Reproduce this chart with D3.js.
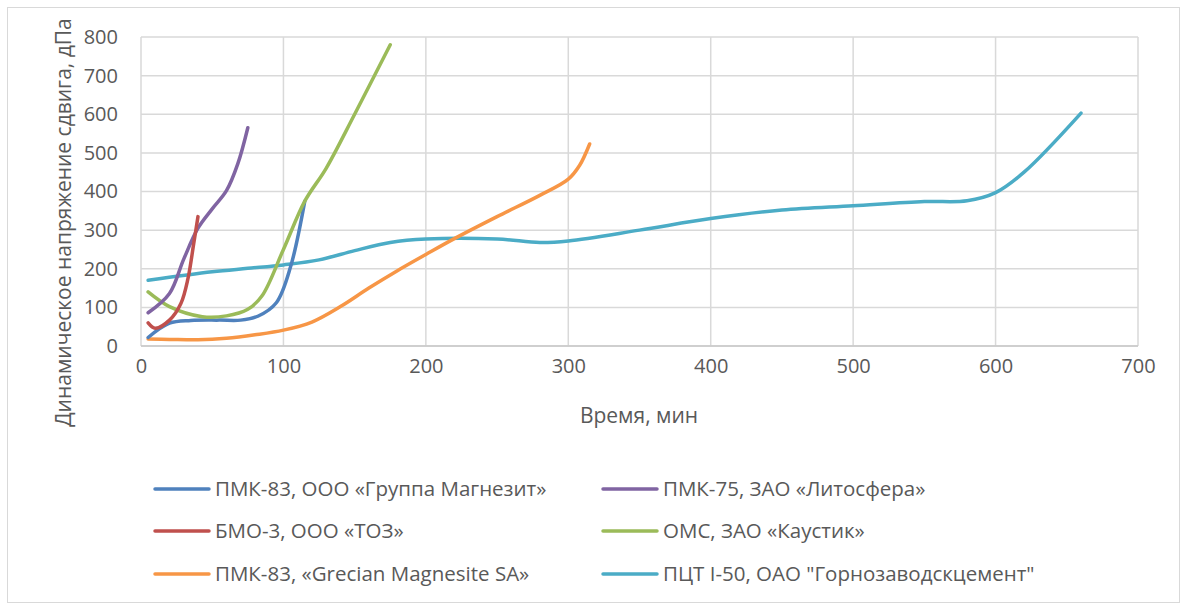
<!DOCTYPE html>
<html lang="ru">
<head>
<meta charset="UTF-8">
<title>Динамическое напряжение сдвига</title>
<script src="https://d3js.org/d3.v7.min.js"></script>
<style>
  body { margin: 0; background: #fff; }
  svg text { font-family: "Open Sans", "Segoe UI", sans-serif; fill: #595959; }
  .grid line { stroke: #d9d9d9; stroke-width: 1.5px; }
  .series { fill: none; stroke-width: 3.5px; stroke-linecap: round; stroke-linejoin: round; }
</style>
</head>
<body>
<div id="chart"></div>
<script>
// x ticks / y ticks
const xTicks = [0, 100, 200, 300, 400, 500, 600, 700];
const yTicks = [0, 100, 200, 300, 400, 500, 600, 700, 800];

// series values: [time, value]
const pmk83Magnezit = [[5,22],[20,59],[35,66],[55,67],[70,67],[82,77],[95,112],[105,205],[115,375]];
const pmk75Litosfera = [[5,86],[20,136],[30,225],[40,305],[50,355],[60,402],[68,472],[75,565]];
const bmo3Toz = [[5,60],[10,46],[20,67],[28,110],[33,175],[37,265],[40,335]];
const omsKaustik = [[5,140],[20,102],[43,76],[60,78],[75,95],[85,130],[100,250],[115,375],[130,460],[150,600],[175,780]];
const pmk83Grecian = [[5,18],[20,17],[40,16],[60,20],[80,29],[100,41],[120,62],[140,102],[160,150],[180,195],[200,237],[220,278],[250,335],[280,390],[300,432],[308,468],[315,523]];
const pctI50 = [[5,170],[50,192],[75,201],[100,210],[125,223],[150,247],[175,268],[200,277],[250,277],[280,268],[300,272],[350,300],[400,330],[450,352],[500,363],[550,374],[580,376],[600,397],[620,450],[660,603]];

const seriesNames = [
  "ПМК-83, ООО «Группа Магнезит»",
  "ПМК-75, ЗАО «Литосфера»",
  "БМО-3, ООО «ТОЗ»",
  "ОМС, ЗАО «Каустик»",
  "ПМК-83, «Grecian Magnesite SA»",
  "ПЦТ I-50, ОАО \"Горнозаводскцемент\""
];
const seriesColors = ["#4f81bd", "#8064a2", "#c0504d", "#9bbb59", "#f79646", "#4bacc6"];
const seriesData = [pmk83Magnezit, pmk75Litosfera, bmo3Toz, omsKaustik, pmk83Grecian, pctI50];
// drawing order (bottom to top)
const drawOrder = [5, 4, 0, 3, 1, 2];

const width = 1186, height = 610;

const svg = d3.select("#chart").append("svg")
  .attr("width", width)
  .attr("height", height);

// outer chart border
svg.append("rect")
  .attr("x", 7.5).attr("y", 7.5)
  .attr("width", 1172).attr("height", 595)
  .attr("fill", "#fff")
  .attr("stroke", "#d9d9d9");

const x = d3.scaleLinear().domain([0, 700]).range([141, 1138]);
const y = d3.scaleLinear().domain([0, 800]).range([346, 37]);

// gridlines
const grid = svg.append("g").attr("class", "grid");
grid.selectAll(".h").data(yTicks).enter().append("line")
  .attr("x1", x(0)).attr("x2", x(700))
  .attr("y1", d => y(d)).attr("y2", d => y(d));
grid.selectAll(".v").data(xTicks).enter().append("line")
  .attr("y1", y(0)).attr("y2", y(800))
  .attr("x1", d => x(d)).attr("x2", d => x(d));

// axis labels
const xAxis = svg.append("g")
  .attr("transform", `translate(0,${y(0)})`)
  .call(d3.axisBottom(x).tickValues(xTicks).tickSize(0).tickPadding(13));
const yAxis = svg.append("g")
  .attr("transform", `translate(${x(0)},0)`)
  .call(d3.axisLeft(y).tickValues(yTicks).tickSize(0).tickPadding(23));
[xAxis, yAxis].forEach(a => {
  a.select(".domain").remove();
  a.selectAll("text").style("font-size", "20px").attr("fill", "#595959");
});
svg.append("line")
  .attr("x1", x(0)).attr("x2", x(700))
  .attr("y1", y(0)).attr("y2", y(0))
  .attr("stroke", "#c8c8c8").attr("stroke-width", 1.5);

// axis titles
svg.append("text")
  .attr("x", 639).attr("y", 423)
  .attr("text-anchor", "middle")
  .style("font-size", "21px")
  .text("Время, мин");
svg.append("text")
  .attr("transform", `translate(71,${(y(0) + y(800)) / 2 + 31}) rotate(-90)`)
  .attr("text-anchor", "middle")
  .style("font-size", "21px")
  .text("Динамическое напряжение сдвига, дПа");

// lines
const line = d3.line()
  .x(d => x(d[0]))
  .y(d => y(d[1]))
  .curve(d3.curveCatmullRom.alpha(0.5));

svg.append("g").selectAll("path")
  .data(drawOrder)
  .enter().append("path")
  .attr("class", "series")
  .attr("stroke", i => seriesColors[i])
  .attr("d", i => line(seriesData[i]));

// legend
const legendCols = [155, 603];
const legendRows = [489, 531, 574];
const legend = svg.append("g").selectAll("g")
  .data(seriesNames)
  .enter().append("g")
  .attr("transform", (d, i) => `translate(${legendCols[i % 2]},${legendRows[Math.floor(i / 2)]})`);
legend.append("line")
  .attr("x1", 0).attr("x2", 54)
  .attr("stroke", (d, i) => seriesColors[i])
  .attr("stroke-width", 3.5)
  .attr("stroke-linecap", "round");
legend.append("text")
  .attr("x", 60).attr("dy", "0.35em")
  .style("font-size", "20.5px")
  .text(d => d);
</script>
</body>
</html>
